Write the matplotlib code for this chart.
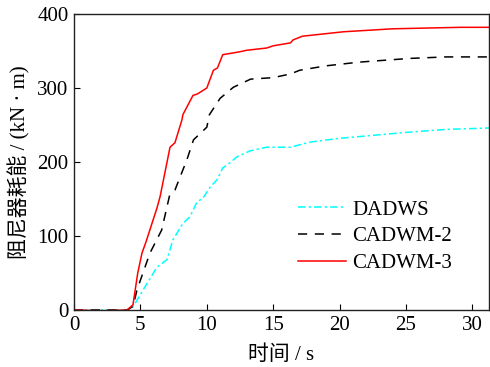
import numpy as np
import matplotlib
matplotlib.use('Agg')
import matplotlib.pyplot as plt

plt.rcParams['font.family'] = ['Liberation Serif', 'Noto Sans CJK SC']

# 数据
t_dadws = [0, 2, 4.0, 4.44, 5.2, 6.25, 7.0, 7.45, 8.2, 8.73, 9.26, 9.7, 10.25, 10.77,
           11.2, 11.75, 12.27, 13.25, 14.5, 16.3, 17.8, 20, 22.5, 25, 28, 31.3]
e_dadws = [0, 0, 0, 4, 27, 58, 68, 95, 117, 126, 146, 151, 166, 176,
           192, 199, 207, 215, 220, 220, 227, 232, 236, 240, 244, 246]

t_c2 = [0, 2, 4.0, 4.45, 4.74, 5.72, 6.6, 7.2, 7.6, 8.5, 9.0, 10.0, 10.2, 11.0, 12.0,
        13.3, 15.0, 16.3, 17.0, 19.0, 21.5, 25.3, 28, 31.3]
e_c2 = [0, 0, 0, 5, 27, 77, 108, 155, 162, 203, 230, 247, 264, 286, 301,
        312, 314, 319, 324, 330, 335, 340, 342, 342]

t_c3 = [0, 2, 4.0, 4.44, 4.8, 5.12, 5.42, 6.25, 6.48, 7.23, 7.6, 8.13, 8.2, 8.96, 9.3, 10.0,
        10.5, 10.8, 11.2, 12.5, 13.0, 14.5, 15.0, 16.3, 16.5, 17.2, 20.3, 24.0, 29.1, 31.3]
e_c3 = [0, -1, 0, 7, 50, 77, 92, 138, 153, 220, 226, 257, 264, 290, 292, 300,
        324, 327, 345, 349, 351, 354, 357, 361, 365, 370, 376, 380, 382, 382]

fig = plt.figure(figsize=(4.9, 3.67), dpi=100)
ax = fig.add_axes([74/490, (367-310)/367, (489-74)/490, (310-14)/367])

ax.plot(t_dadws, e_dadws, color='cyan', lw=1.1, linestyle=(0, (5, 2, 1.5, 2)), label='DADWS')
ax.plot(t_c2, e_c2, color='black', lw=1.1, linestyle=(0, (6, 5)), label='CADWM-2')
ax.plot(t_c3, e_c3, color='red', lw=1.1, label='CADWM-3')

ax.set_xlim(0, 31.25)
ax.set_ylim(0, 400)
ax.set_xticks([0, 5, 10, 15, 20, 25, 30])
ax.set_yticks([0, 100, 200, 300, 400])
ax.tick_params(direction='in', labelsize=15, top=False, right=False, length=4, pad=4)
for s in ax.spines.values():
    s.set_color('#222222')
    s.set_linewidth(1.0)

ax.set_xlabel('时间 / s', fontsize=15, labelpad=8)
ax.set_ylabel('阻尼器耗能 / (kN · m)', fontsize=15, labelpad=5)

ax.legend(loc='upper left', bbox_to_anchor=(0.52, 0.4), frameon=False, fontsize=15,
          handlelength=2.3, handletextpad=0.3, labelspacing=0.35, borderaxespad=0)

fig.savefig('out.png', dpi=100)
